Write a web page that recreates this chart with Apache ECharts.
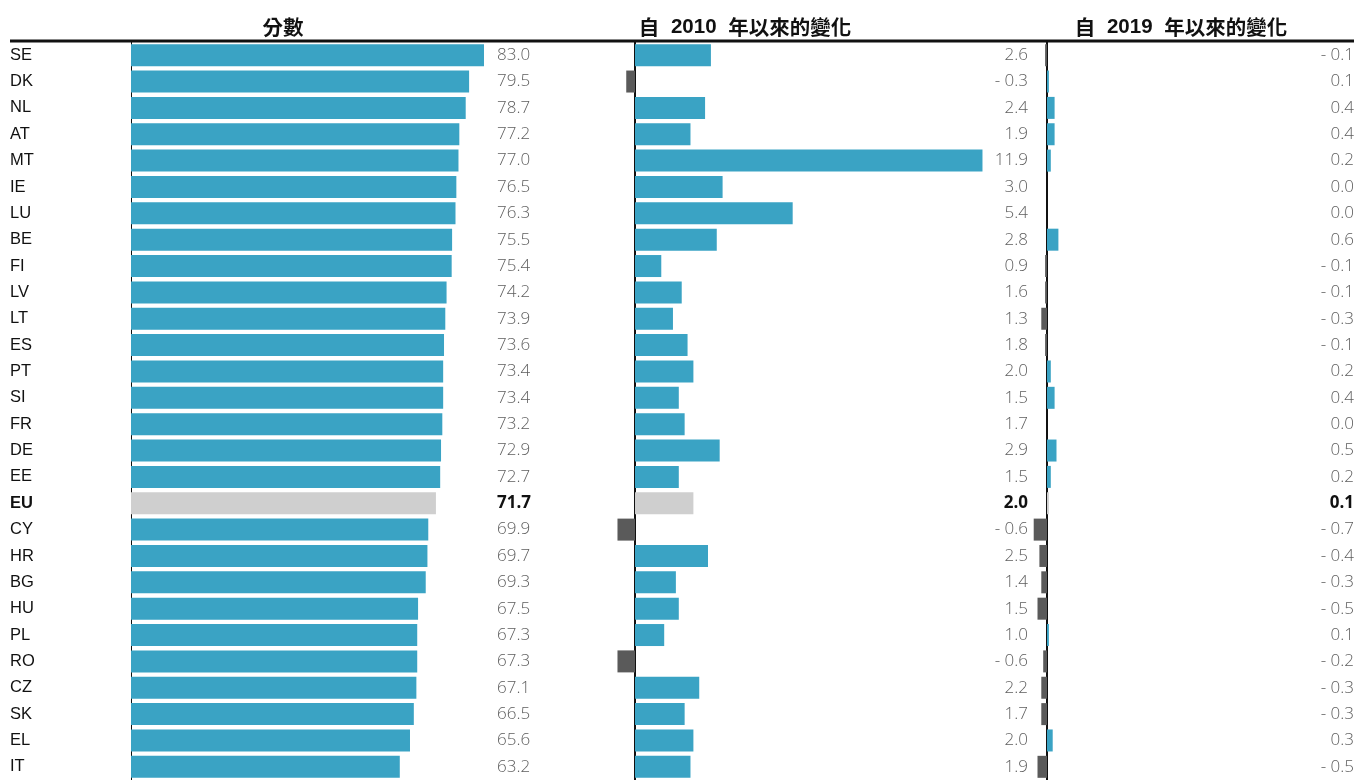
<!DOCTYPE html>
<html>
<head>
<meta charset="utf-8">
<script src="https://cdn.jsdelivr.net/npm/echarts@6/dist/echarts.min.js"></script>
<style>html,body{margin:0;padding:0;background:#fff}#c{width:1357px;height:780px}</style>
</head>
<body>
<div id="c"></div>
<script>
const countries = ['SE','DK','NL','AT','MT','IE','LU','BE','FI','LV','LT','ES','PT','SI','FR','DE','EE','EU','CY','HR','BG','HU','PL','RO','CZ','SK','EL','IT'];
const score = [83.0,79.5,78.7,77.2,77.0,76.5,76.3,75.5,75.4,74.2,73.9,73.6,73.4,73.4,73.2,72.9,72.7,71.7,69.9,69.7,69.3,67.5,67.3,67.3,67.1,66.5,65.6,63.2];
const change2010 = [2.6,-0.3,2.4,1.9,11.9,3.0,5.4,2.8,0.9,1.6,1.3,1.8,2.0,1.5,1.7,2.9,1.5,2.0,-0.6,2.5,1.4,1.5,1.0,-0.6,2.2,1.7,2.0,1.9];
const change2019 = [-0.1,0.1,0.4,0.4,0.2,0.0,0.0,0.6,-0.1,-0.1,-0.3,-0.1,0.2,0.4,0.0,0.5,0.2,0.1,-0.7,-0.4,-0.3,-0.5,0.1,-0.2,-0.3,-0.3,0.3,-0.5];
const headerScore = '分數';
const headerPrefix = '自';
const headerYears = ['2010','2019'];
const headerSuffix = '年以來的變化';
const highlight = 'EU';

const BLUE = '#3aa3c4', NEG = '#5a5a5a', EUC = '#cfcfcf';
const TOP = 42, H = 739;
const VAL_FAMILY = '"Open Sans", sans-serif';
const valFont = {fontFamily:VAL_FAMILY, fontSize:17, color:'#5e5e5e', fontWeight:300};

function fmt(v){ const s = Math.abs(v).toFixed(1); return v < 0 ? '- ' + s : s; }
function colorFn(p){ if (countries[p.dataIndex] === highlight) return EUC; return p.value < 0 ? NEG : BLUE; }

const grids = [
  {left:131, top:TOP, width:361.5, height:H},        // score bars
  {left:605.8, top:TOP, width:379.6, height:H},      // change 2010
  {left:1028, top:TOP, width:38, height:H},          // change 2019
  {left:497, top:TOP, width:1, height:H},            // labels score
  {left:1029, top:TOP, width:1, height:H},           // labels 2010
  {left:1355, top:TOP, width:1, height:H}            // labels 2019
];
const xMins = [0,-1,-1,0,0,0], xMaxs = [85,12,1,1,1,1];
const xAxes = grids.map((g,i)=>({gridIndex:i, type:'value', min:xMins[i], max:xMaxs[i], show:false}));

function labelAxis(gi, arr, align, margin){
  return {gridIndex:gi, type:'category', inverse:true, data:countries,
    axisLine:{show:false}, axisTick:{show:false},
    axisLabel:{show:true, interval:0, align:align, margin:margin,
      formatter:(v)=>{ const i = countries.indexOf(v); const t = fmt(arr[i]); return v===highlight ? '{b|'+t+'}' : t; },
      ...valFont,
      rich:{b:{fontFamily:VAL_FAMILY, fontSize:17, fontWeight:'bold', color:'#111'}}
    }};
}

const CFONT = '"Liberation Sans", Arial, sans-serif';
const yAxes = [
  {gridIndex:0, type:'category', inverse:true, data:countries,
    axisLine:{show:true, lineStyle:{color:'#111', width:1}}, axisTick:{show:false},
    axisLabel:{interval:0, align:'left', margin:121, fontFamily:CFONT, fontSize:16.5, color:'#111',
      formatter:(v)=> v===highlight ? '{b|'+v+'}' : v,
      rich:{b:{fontFamily:CFONT, fontSize:16.5, fontWeight:'bold', color:'#111'}}}},
  {gridIndex:1, type:'category', inverse:true, data:countries,
    axisLine:{show:true, onZero:true, lineStyle:{color:'#111', width:2}}, axisTick:{show:false}, axisLabel:{show:false}},
  {gridIndex:2, type:'category', inverse:true, data:countries,
    axisLine:{show:true, onZero:true, lineStyle:{color:'#111', width:2}}, axisTick:{show:false}, axisLabel:{show:false}},
  labelAxis(3, score, 'left', 0),
  labelAxis(4, change2010, 'right', 1),
  labelAxis(5, change2019, 'right', 1)
];

function barSeries(gi, arr){
  return {type:'bar', xAxisIndex:gi, yAxisIndex:gi, data:arr, barWidth:22, silent:true,
    itemStyle:{color:colorFn}, z:1};
}

const HFONT = '"Liberation Sans", "Noto Sans CJK TC", sans-serif';
const headRich = {
  c:{fontFamily:'"Noto Sans CJK TC", sans-serif', fontSize:20.5, fontWeight:'bold', color:'#111'},
  n:{fontFamily:'"Liberation Sans", Arial, sans-serif', fontSize:20.5, fontWeight:'bold', color:'#111', padding:[0,7,0,7]}
};
function headText(x, text){
  return {type:'text', x:x, y:27.5, style:{text:text, rich:headRich, fontFamily:HFONT, fontSize:20.5, fontWeight:'bold', fill:'#111', align:'center', verticalAlign:'middle'}};
}

const option = {
  animation:false,
  backgroundColor:'#fff',
  grid:grids,
  xAxis:xAxes,
  yAxis:yAxes,
  series:[barSeries(0, score), barSeries(1, change2010), barSeries(2, change2019)],
  graphic:[
    {type:'line', shape:{x1:10, y1:41, x2:1354, y2:41}, style:{stroke:'#111', lineWidth:3}, z:10},
    headText(283, '{c|'+headerScore+'}'),
    headText(745, '{c|'+headerPrefix+' }{n|'+headerYears[0]+'}{c| '+headerSuffix+'}'),
    headText(1181, '{c|'+headerPrefix+' }{n|'+headerYears[1]+'}{c| '+headerSuffix+'}')
  ]
};
const chart = echarts.init(document.getElementById('c'), null, {renderer:'canvas'});
chart.setOption(option);
</script>
</body>
</html>
